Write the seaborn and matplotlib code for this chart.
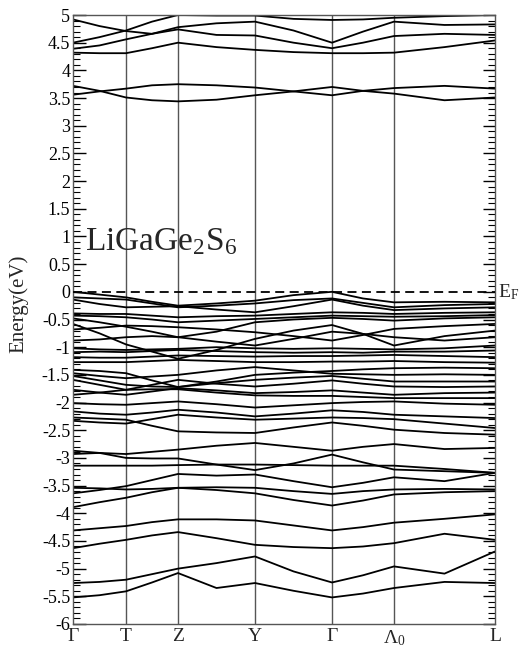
import numpy as np
import pandas as pd
import matplotlib
matplotlib.use("Agg")
import matplotlib.pyplot as plt
import seaborn as sns
from matplotlib.ticker import MultipleLocator, FuncFormatter

# ---------------- data ----------------
kpath_labels = ["Γ", "T", "Z", "Y", "Γ", "Λ$_0$", "L"]
kpath_pos = [0, 53, 105, 182, 259, 321, 422]
k_grid = [0, 26.5, 53, 79, 105, 143.5, 182, 220.5, 259, 290, 321, 371.5, 422]

# conduction bands
cb1 = [4.92, 4.80, 4.71, 4.66, 4.78, 4.85, 4.88, 4.72, 4.50, 4.70, 4.88, 4.82, 4.83]
cb2 = [4.50, 4.60, 4.72, 4.88, 5.00, 4.99, 4.99, 4.93, 4.91, 4.92, 4.95, 4.98, 5.00]
cb3 = [4.39, 4.45, 4.56, 4.66, 4.74, 4.64, 4.63, 4.50, 4.40, 4.50, 4.62, 4.66, 4.64]
cb4 = [4.32, 4.31, 4.31, 4.40, 4.50, 4.42, 4.37, 4.33, 4.31, 4.31, 4.32, 4.42, 4.54]
cb5 = [3.72, 3.63, 3.51, 3.46, 3.44, 3.47, 3.55, 3.62, 3.70, 3.63, 3.58, 3.46, 3.51]
cb6 = [3.56, 3.62, 3.67, 3.73, 3.75, 3.73, 3.69, 3.62, 3.55, 3.63, 3.68, 3.72, 3.67]

# valence bands
vb1 = [0.00, -0.05, -0.10, -0.18, -0.25, -0.21, -0.16, -0.06, 0.00, -0.12, -0.19, -0.18, -0.19]
vb2 = [-0.10, -0.12, -0.14, -0.21, -0.28, -0.25, -0.21, -0.15, -0.12, -0.20, -0.28, -0.24, -0.22]
vb3 = [-0.14, -0.22, -0.28, -0.27, -0.26, -0.32, -0.37, -0.26, -0.14, -0.25, -0.33, -0.30, -0.28]
vb4 = [-0.39, -0.40, -0.40, -0.43, -0.46, -0.44, -0.43, -0.40, -0.37, -0.38, -0.40, -0.38, -0.37]
vb5 = [-0.43, -0.44, -0.46, -0.50, -0.55, -0.52, -0.49, -0.46, -0.43, -0.44, -0.45, -0.44, -0.42]
vb6 = [-0.48, -0.55, -0.63, -0.72, -0.82, -0.72, -0.55, -0.50, -0.47, -0.49, -0.52, -0.48, -0.46]
vb7 = [-0.58, -0.75, -0.95, -1.08, -1.21, -1.05, -0.85, -0.70, -0.60, -0.76, -0.97, -0.80, -0.70]
vb8 = [-0.68, -0.65, -0.61, -0.62, -0.64, -0.68, -0.73, -0.80, -0.88, -0.78, -0.67, -0.62, -0.58]
vb9 = [-0.88, -0.86, -0.82, -0.80, -0.82, -0.90, -0.97, -0.85, -0.72, -0.76, -0.82, -0.88, -0.82]
vb10 = [-1.02, -1.04, -1.05, -1.04, -1.03, -1.00, -1.02, -1.03, -1.02, -1.03, -1.04, -1.02, -0.97]
vb11 = [-1.09, -1.08, -1.09, -1.07, -1.05, -1.07, -1.09, -1.10, -1.09, -1.10, -1.08, -1.08, -1.06]
vb12 = [-1.18, -1.19, -1.19, -1.17, -1.15, -1.16, -1.17, -1.16, -1.16, -1.15, -1.14, -1.16, -1.18]
vb13 = [-1.27, -1.27, -1.27, -1.25, -1.23, -1.25, -1.27, -1.27, -1.26, -1.26, -1.25, -1.27, -1.28]
vb14 = [-1.41, -1.43, -1.47, -1.60, -1.72, -1.62, -1.50, -1.46, -1.43, -1.40, -1.38, -1.37, -1.38]
vb15 = [-1.47, -1.52, -1.56, -1.53, -1.50, -1.42, -1.36, -1.42, -1.48, -1.49, -1.50, -1.49, -1.50]
vb16 = [-1.52, -1.60, -1.68, -1.71, -1.72, -1.65, -1.59, -1.55, -1.52, -1.57, -1.62, -1.62, -1.62]
vb17 = [-1.59, -1.68, -1.77, -1.68, -1.59, -1.66, -1.71, -1.66, -1.60, -1.66, -1.71, -1.72, -1.71]
vb18 = [-1.77, -1.82, -1.86, -1.80, -1.74, -1.78, -1.83, -1.81, -1.78, -1.82, -1.86, -1.83, -1.82]
vb19 = [-1.86, -1.82, -1.77, -1.76, -1.76, -1.82, -1.87, -1.88, -1.88, -1.90, -1.92, -1.92, -1.92]
vb20 = [-2.01, -2.03, -2.04, -2.01, -1.98, -2.03, -2.09, -2.05, -2.01, -1.99, -1.98, -2.02, -2.04]
vb21 = [-2.16, -2.20, -2.22, -2.18, -2.13, -2.18, -2.25, -2.20, -2.14, -2.17, -2.22, -2.25, -2.28]
vb22 = [-2.27, -2.29, -2.31, -2.42, -2.52, -2.54, -2.55, -2.45, -2.36, -2.42, -2.49, -2.55, -2.58]
vb23 = [-2.33, -2.36, -2.38, -2.30, -2.22, -2.27, -2.31, -2.29, -2.27, -2.28, -2.30, -2.38, -2.46]
vb24 = [-2.87, -2.91, -3.00, -3.01, -3.01, -3.12, -3.22, -3.10, -2.94, -3.08, -3.21, -3.24, -3.27]
vb25 = [-2.93, -2.91, -2.93, -2.89, -2.85, -2.78, -2.73, -2.80, -2.87, -2.80, -2.75, -2.84, -2.82]
vb26 = [-3.14, -3.14, -3.14, -3.14, -3.13, -3.12, -3.12, -3.13, -3.14, -3.14, -3.14, -3.20, -3.27]
vb27 = [-3.64, -3.58, -3.51, -3.40, -3.29, -3.32, -3.30, -3.42, -3.53, -3.45, -3.35, -3.42, -3.27]
vb28 = [-3.54, -3.55, -3.57, -3.56, -3.54, -3.53, -3.54, -3.60, -3.65, -3.60, -3.57, -3.56, -3.57]
vb29 = [-3.89, -3.80, -3.72, -3.62, -3.54, -3.58, -3.64, -3.76, -3.86, -3.77, -3.66, -3.62, -3.60]
vb30 = [-4.31, -4.27, -4.23, -4.16, -4.11, -4.11, -4.13, -4.22, -4.31, -4.25, -4.17, -4.10, -4.02]
vb31 = [-4.63, -4.55, -4.48, -4.40, -4.34, -4.45, -4.57, -4.61, -4.63, -4.60, -4.54, -4.37, -4.48]
vb32 = [-5.26, -5.24, -5.20, -5.10, -5.00, -4.90, -4.78, -5.05, -5.25, -5.12, -4.96, -5.09, -4.69]
vb33 = [-5.52, -5.48, -5.41, -5.25, -5.08, -5.35, -5.26, -5.40, -5.52, -5.45, -5.35, -5.24, -5.26]

bands = [cb1, cb2, cb3, cb4, cb5, cb6,
         vb1, vb2, vb3, vb4, vb5, vb6, vb7, vb8, vb9, vb10, vb11, vb12, vb13,
         vb14, vb15, vb16, vb17, vb18, vb19, vb20, vb21, vb22, vb23, vb24, vb25,
         vb26, vb27, vb28, vb29, vb30, vb31, vb32, vb33]

rows = []
for i, b in enumerate(bands):
    for k, e in zip(k_grid, b):
        rows.append({"k": k, "E": e, "band": i})
df = pd.DataFrame(rows)

# ---------------- style ----------------
sns.set_style("ticks")
plt.rcParams["font.family"] = ["Liberation Serif", "DejaVu Serif"]
plt.rcParams["mathtext.fontset"] = "custom"
plt.rcParams["mathtext.rm"] = "Liberation Serif"
plt.rcParams["mathtext.it"] = "Liberation Serif:italic"
plt.rcParams["axes.unicode_minus"] = False

fig = plt.figure(figsize=(5.21, 6.47), dpi=100)
ax = fig.add_axes([73 / 521, 1 - 624 / 647, 422 / 521, 609 / 647])

for xp in kpath_pos[1:-1]:
    ax.axvline(xp, color="#555555", lw=1.0, zorder=1)

sns.lineplot(data=df, x="k", y="E", units="band", estimator=None, sort=False,
             color="black", lw=1.3, legend=False, ax=ax, zorder=2)

ax.axhline(0, color="black", lw=1.3, ls=(0, (5, 3)), zorder=3)

ax.set_xlim(kpath_pos[0], kpath_pos[-1])
ax.set_ylim(-6, 5)
ax.set_xticks(kpath_pos)
ax.set_xticklabels(kpath_labels, fontsize=14)
ax.tick_params(axis="x", length=0, pad=3)

ax.yaxis.set_major_locator(MultipleLocator(0.5))
ax.yaxis.set_minor_locator(MultipleLocator(0.1))
ax.yaxis.set_major_formatter(FuncFormatter(lambda v, p: "%g" % v))
ax.tick_params(axis="y", which="both", direction="in", left=True, right=True,
               labelsize=13, pad=2, colors="black")
ax.tick_params(axis="y", which="major", length=9, width=1.0)
ax.tick_params(axis="y", which="minor", length=5, width=0.8)

for s in ax.spines.values():
    s.set_color("#555555")
    s.set_linewidth(1.0)

ax.set_xlabel("")
ax.set_ylabel("Energy(eV)", fontsize=15)
ax.yaxis.set_label_coords(-0.105, 0.525)

ax.text(12, 0.76, "LiGaGe$_2$S$_6$", fontsize=24, ha="left", va="baseline")
ax.text(1.006, 0.0, "E$_\\mathrm{F}$", transform=ax.get_yaxis_transform(),
        fontsize=14, ha="left", va="center")

fig.savefig("out.png", dpi=100)
